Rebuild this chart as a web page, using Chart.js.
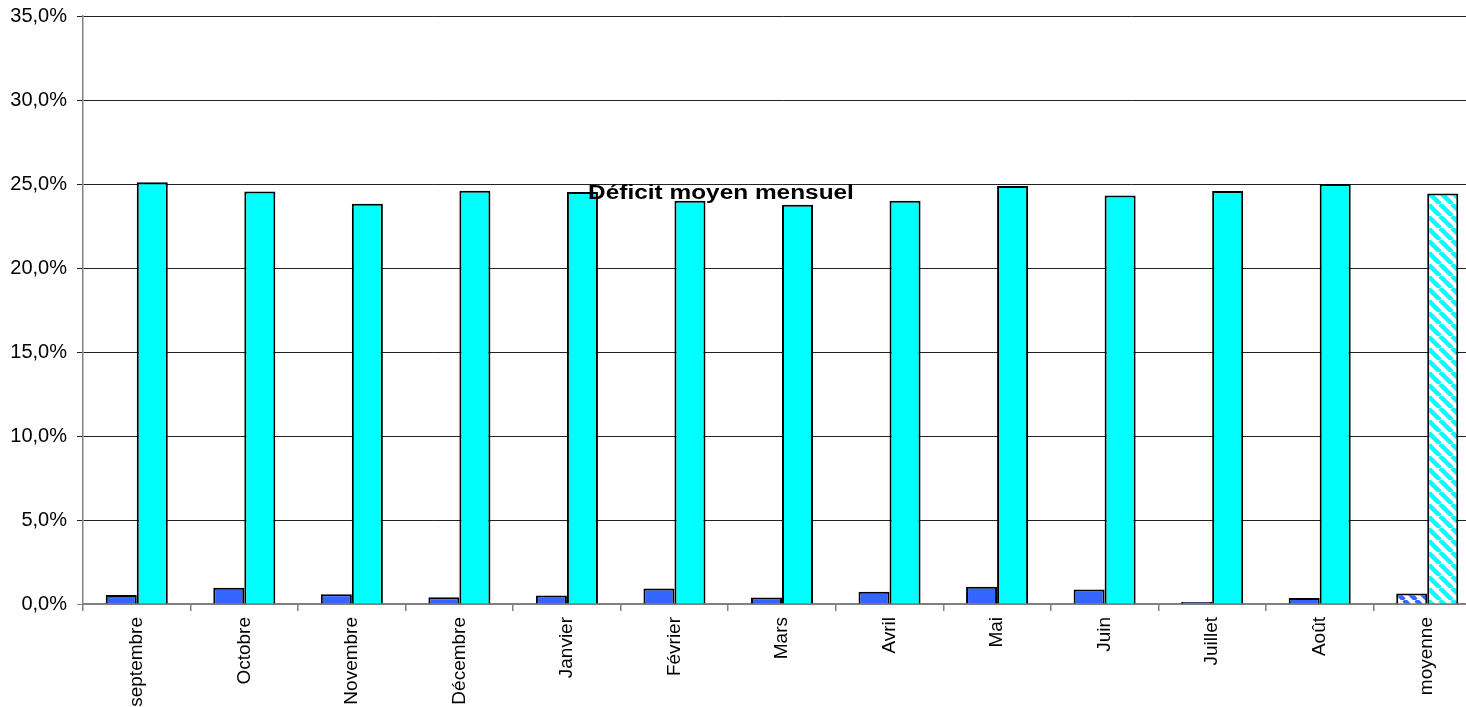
<!DOCTYPE html>
<html lang="fr">
<head>
<meta charset="utf-8">
<title>Déficit moyen mensuel</title>
<script src="https://cdn.jsdelivr.net/npm/chart.js@4/dist/chart.umd.min.js"></script>
<style>
  html, body { margin: 0; padding: 0; background: #fff; overflow: hidden; }
  #deficitChart { display: block; }
</style>
</head>
<body>
<canvas id="deficitChart" width="1500" height="707"></canvas>
<script>
const mois = ["septembre", "Octobre", "Novembre", "Décembre", "Janvier", "Février",
  "Mars", "Avril", "Mai", "Juin", "Juillet", "Août", "moyenne"];
// deux séries en % : petit déficit (bleu) et déficit total (cyan)
const deficitBleu = [0.54, 0.97, 0.58, 0.40, 0.50, 0.93, 0.38, 0.73, 1.03, 0.87, 0.12, 0.36, 0.62];
const deficitCyan = [25.1, 24.56, 23.83, 24.6, 24.52, 24.0, 23.77, 24.0, 24.88, 24.32, 24.58, 25.0, 24.44];
const yTicks = [0, 5, 10, 15, 20, 25, 30, 35];

const canvas = document.getElementById("deficitChart");
const ctx = canvas.getContext("2d");

// hachures pour la colonne "moyenne"
function hachure(couleur) {
  const t = document.createElement("canvas");
  t.width = 12; t.height = 12;
  const c = t.getContext("2d");
  c.fillStyle = "#fff";
  c.fillRect(0, 0, 12, 12);
  c.strokeStyle = couleur;
  c.lineWidth = 4.5;
  c.beginPath();
  for (const d of [-12, 0, 12]) {
    c.moveTo(d, 0);
    c.lineTo(d + 12, 12);
  }
  c.stroke();
  return ctx.createPattern(t, "repeat");
}

const fondBleu = mois.map((m, i) => i === mois.length - 1 ? hachure("#3366ff") : "#3366ff");
const fondCyan = mois.map((m, i) => i === mois.length - 1 ? hachure("#00ffff") : "#00ffff");

const titrePlugin = {
  id: "titreInterne",
  afterDraw(chart, args, opts) {
    const c = chart.ctx;
    c.save();
    c.font = "bold 20px 'Liberation Sans', Arial, sans-serif";
    c.fillStyle = "#000";
    c.textAlign = "center";
    c.textBaseline = "alphabetic";
    c.translate(opts.x, opts.y);
    c.scale(1.22, 1);
    c.fillText(opts.text, 0, 0);
    c.restore();
  }
};

const pct = v => v.toFixed(1).replace(".", ",") + "%";

new Chart(ctx, {
  type: "bar",
  data: {
    labels: mois,
    datasets: [
      {
        label: "bleu",
        data: deficitBleu,
        backgroundColor: fondBleu,
        borderColor: "#000",
        borderWidth: 2,
        borderSkipped: "bottom",
      },
      {
        label: "cyan",
        data: deficitCyan,
        backgroundColor: fondCyan,
        borderColor: "#000",
        borderWidth: 2,
        borderSkipped: "bottom",
      },
    ],
  },
  plugins: [titrePlugin],
  options: {
    responsive: false,
    animation: false,
    categoryPercentage: 0.577,
    barPercentage: 1.0,
    layout: { padding: { top: 16, right: 19, left: 0, bottom: 0 } },
    plugins: {
      legend: { display: false },
      tooltip: { enabled: false },
      title: { display: false },
      titreInterne: { text: "Déficit moyen mensuel", x: 721, y: 199 },
    },
    scales: {
      x: {
        offset: true,
        grid: {
          offset: true,
          drawOnChartArea: false,
          color: "#808080",
          tickLength: 7,
          lineWidth: 1.5,
        },
        border: { color: "#808080", width: 1.5 },
        ticks: {
          minRotation: 90,
          maxRotation: 90,
          autoSkip: false,
          padding: 6,
          color: "#000",
          font: { family: "'Liberation Sans', Arial, sans-serif", size: 19 },
        },
        afterFit(scale) { scale.height = 103; },
      },
      y: {
        min: 0,
        max: 35,
        afterBuildTicks(scale) { scale.ticks = yTicks.map(v => ({ value: v })); },
        grid: {
          color: c => (c.tick && c.tick.value === 0 ? "#808080" : "#222"),
          lineWidth: 1,
          tickLength: 6,
        },
        border: { color: "#808080", width: 1.5 },
        ticks: {
          callback: v => pct(v),
          padding: 10,
          color: "#000",
          font: { family: "'Liberation Sans', Arial, sans-serif", size: 20 },
        },
        afterFit(scale) {
          scale.width = 83;
          scale.paddingTop = 0;
          scale.paddingBottom = 0;
        },
      },
    },
  },
});
</script>
</body>
</html>
